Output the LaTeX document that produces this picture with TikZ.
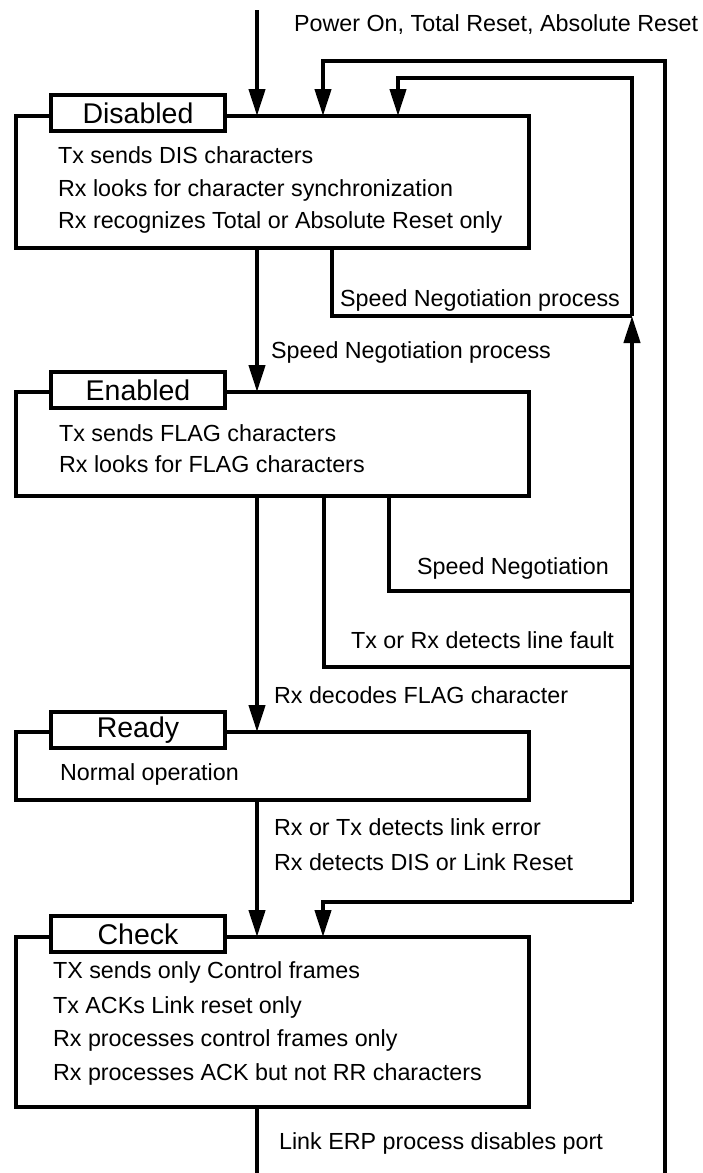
\documentclass[tikz,border=0pt]{standalone}
\usepackage{fontspec}
\setmainfont{Liberation Sans}
\usetikzlibrary{arrows.meta}
\begin{document}
\begin{tikzpicture}[x=1pt,y=-1pt,
  line width=4.2pt,
  arr/.style={-{Triangle[length=27pt,width=16pt]}},
  statebox/.style={draw, line width=4.5pt, inner sep=0pt, outer sep=0pt, minimum width=513pt},
  titlebox/.style={draw, fill=white, line width=4.5pt, inner sep=0pt, outer sep=0pt, minimum width=174pt, minimum height=36pt, font=\fontsize{28.5}{30}\selectfont},
  txt/.style={anchor=base west, inner sep=0pt, font=\fontsize{23.3}{26}\selectfont}]
\useasboundingbox (0,0) rectangle (702,1173);

% state boxes
\node[statebox, minimum height=132pt] (dis) at (272.5,182) {};
\node[statebox, minimum height=104pt] (ena) at (272.5,444) {};
\node[statebox, minimum height=68pt] (rdy) at (272.5,766) {};
\node[statebox, minimum height=170pt] (chk) at (272.5,1022) {};

\node[titlebox] (disT) at (138,113) {Disabled};
\node[titlebox] (enaT) at (138,390) {Enabled};
\node[titlebox] (rdyT) at (138,730) {Ready};
\node[titlebox] (chkT) at (138,934) {Check};

% box texts
\node[txt] (dis1) at (56,163) {Tx sends DIS characters};
\node[txt] (dis2) at (56,196) {Rx looks for character synchronization};
\node[txt] (dis3) at (56,228) {Rx recognizes Total or Absolute Reset only};
\node[txt] (ena1) at (57,441) {Tx sends FLAG characters};
\node[txt] (ena2) at (57,472) {Rx looks for FLAG characters};
\node[txt] (rdy1) at (58,780) {Normal operation};
\node[txt] (chk1) at (51,978) {TX sends only Control frames};
\node[txt] (chk2) at (51,1013) {Tx ACKs Link reset only};
\node[txt] (chk3) at (51,1046) {Rx processes control frames only};
\node[txt] (chk4) at (51,1080) {Rx processes ACK but not RR characters};

% connector labels
\node[txt] (lPwr) at (292,31) {Power On, Total Reset, Absolute Reset};
\node[txt] (lSnp1) at (338,306) {Speed Negotiation process};
\node[txt] (lSnp2) at (269,358) {Speed Negotiation process};
\node[txt] (lSn) at (415,574) {Speed Negotiation};
\node[txt] (lFault) at (349,648) {Tx or Rx detects line fault};
\node[txt] (lFlag) at (272,703) {Rx decodes FLAG character};
\node[txt] (lErr) at (272,835) {Rx or Tx detects link error};
\node[txt] (lDis) at (272,870) {Rx detects DIS or Link Reset};
\node[txt] (lErp) at (277,1149) {Link ERP process disables port};

% coordinates
\coordinate (pwr) at (257,10);
\coordinate (bot) at (257,1173);
\coordinate (outerB) at (665,1173);
\coordinate (outerT) at (665,61);
\coordinate (o1) at (323,61);
\coordinate (iT) at (632,78);
\coordinate (i1) at (398,78);
\coordinate (iJ) at (632,316);
\coordinate (iS) at (632,591);
\coordinate (iF) at (632,667);
\coordinate (iB) at (632,902);
\coordinate (c1) at (323,902);
\coordinate (d2) at (332,316);
\coordinate (e2) at (324,667);
\coordinate (e3) at (389,591);

% main spine
\draw[arr] (pwr) -- (pwr |- dis.north);
\draw[arr] (pwr |- dis.south) -- (pwr |- ena.north);
\draw[arr] (pwr |- ena.south) -- (pwr |- rdy.north);
\draw[arr] (pwr |- rdy.south) -- (pwr |- chk.north);
\draw (pwr |- chk.south) -- (bot);

% outer loop
\draw[arr] (outerB) -- (outerT) -- (o1) -- (o1 |- dis.north);

% inner loop
\draw[arr] (iS) -- (iJ);
\draw[arr] (iJ) -- (iT) -- (i1) -- (i1 |- dis.north);
\draw (iS) -- (iB);
\draw[arr] (iB) -- (c1) -- (c1 |- chk.north);

% branches
\draw (d2 |- dis.south) -- (d2) -- (iJ);
\draw (e3 |- ena.south) -- (e3) -- (iS);
\draw (e2 |- ena.south) -- (e2) -- (iF);
\end{tikzpicture}
\end{document}
